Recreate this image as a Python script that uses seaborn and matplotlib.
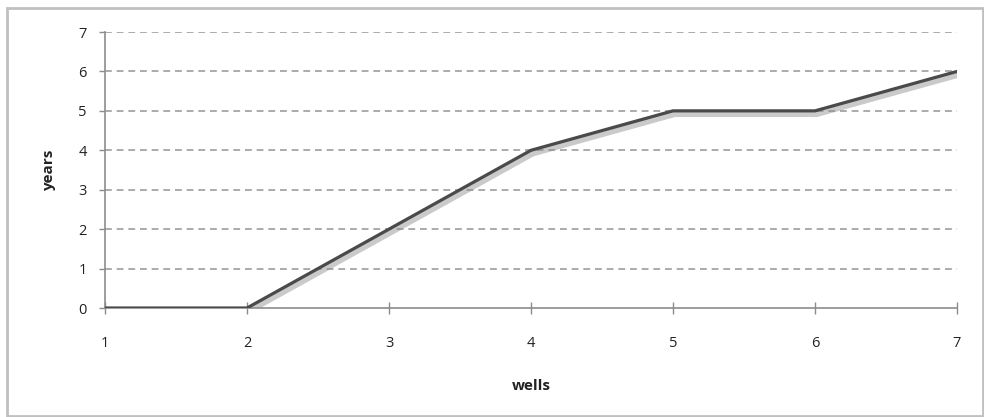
import matplotlib
matplotlib.use("Agg")
import matplotlib.pyplot as plt
import matplotlib.patheffects as pe
import seaborn as sns
import pandas as pd
from matplotlib.patches import Rectangle

wells = [1, 2, 3, 4, 5, 6, 7]
years = [0, 0, 2, 4, 5, 5, 6]
y_ticks = [0, 1, 2, 3, 4, 5, 6, 7]

sns.set_theme(style="white")
plt.rcParams['font.family'] = ['Open Sans', 'DejaVu Sans']

df = pd.DataFrame({"wells": wells, "years": years})

fig = plt.figure(figsize=(9.84, 4.17), dpi=100)
ax = fig.add_axes([105/984, 1 - 308/417, (957-105)/984, (308-32)/417])

sns.lineplot(data=df, x="wells", y="years", ax=ax, color="#4a4a4a", linewidth=2.3,
             path_effects=[pe.SimpleLineShadow(offset=(1.2, -2.2), shadow_color="#8a8a8a", alpha=0.45, linewidth=4.5),
                           pe.Normal()], zorder=5)

ax.set_xlim(1, 7)
ax.set_ylim(0, 7)
ax.set_xticks(wells)
ax.set_yticks(y_ticks)
ax.set_xticklabels([str(w) for w in wells])
ax.set_yticklabels([str(v) for v in y_ticks])

for v in y_ticks[1:]:
    ax.axhline(v, color="#ababab", linestyle=(0, (3.5, 2.5)), linewidth=1.4, zorder=1)

for s in ["top", "right"]:
    ax.spines[s].set_visible(False)
for s in ["left", "bottom"]:
    ax.spines[s].set_color("#8c8c8c")
    ax.spines[s].set_linewidth(1.2)

ax.tick_params(axis="x", direction="inout", length=8, width=1, color="#8c8c8c",
               labelsize=10.5, labelcolor="#222222", pad=16)
ax.tick_params(axis="y", direction="out", length=4, width=1, color="#8c8c8c",
               labelsize=10.5, labelcolor="#222222", pad=9)
ax.tick_params(axis="both", bottom=True, left=True)

ax.set_xlabel("wells", fontsize=11, fontweight="bold", color="#222222", labelpad=20)
ax.set_ylabel("years", fontsize=11, fontweight="bold", color="#222222", labelpad=16)

fig.patches.append(Rectangle((7/984, 1 - 416/417), (983-7)/984, (416-8)/417,
                             transform=fig.transFigure, fill=False,
                             edgecolor="#c0c0c0", linewidth=2))

fig.savefig("out.png", dpi=100)
